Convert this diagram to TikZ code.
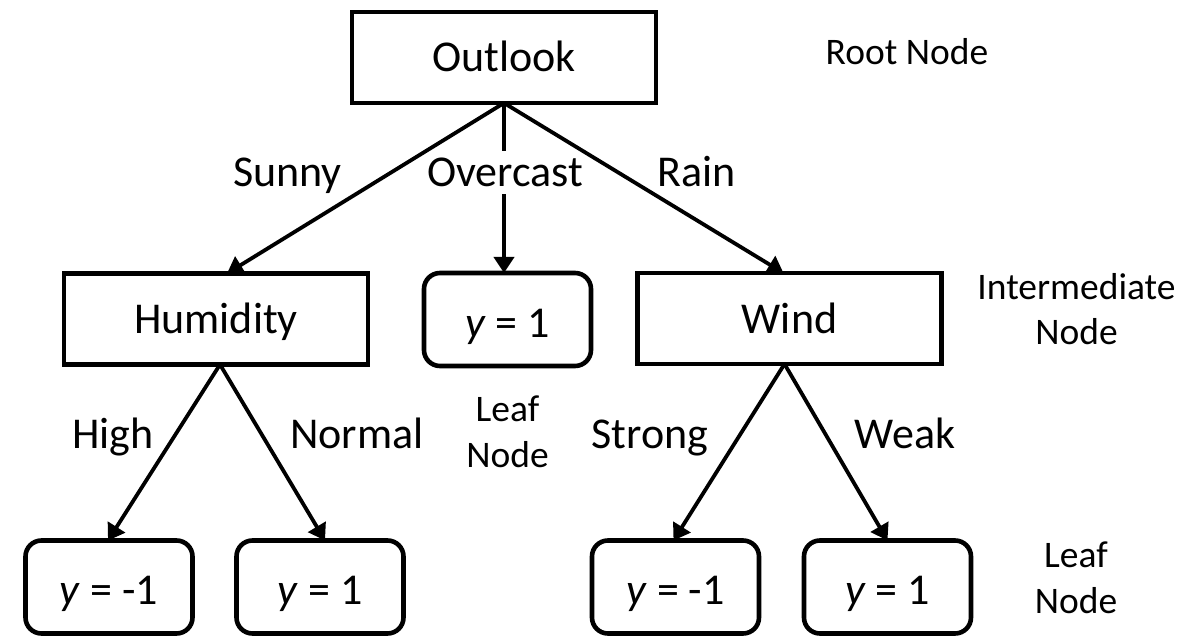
\documentclass[tikz,border=0pt]{standalone}
\usepackage{fontspec}
\setmainfont{Carlito}
\usetikzlibrary{arrows.meta}
\tikzset{
  box/.style={draw=black, line width=4.6bp, rectangle, outer sep=0pt, inner sep=0pt,
    minimum width=304bp, minimum height=91bp,
    font=\fontsize{44bp}{53bp}\selectfont, text height=29bp, text depth=0bp},
  leaf/.style={draw=black, line width=4.6bp, rectangle, rounded corners=16bp, outer sep=0pt, inner sep=0pt,
    minimum width=167bp, minimum height=93bp,
    font=\fontsize{44bp}{53bp}\selectfont, text height=35bp, text depth=0bp},
  edgelab/.style={anchor=base, inner sep=0pt, font=\fontsize{44bp}{53bp}\selectfont},
  cover/.style={fill=white, inner xsep=-30bp, inner ysep=7bp},
  note/.style={anchor=base, inner sep=0pt, align=center, font=\fontsize{37.5bp}{45.5bp}\selectfont},
  arr/.style={line width=3.8bp, -{Triangle[length=16bp,width=20bp]}}
}
\begin{document}
\begin{tikzpicture}[x=1bp,y=-1bp]
\useasboundingbox (0,0) rectangle (1191,637);
% main nodes
\node[box] (out) at (504,57.5) {Outlook};
\node[box] (hum) at (216,319) {Humidity};
\node[leaf] (mid) at (507.5,319.5) {\textit{y} = 1};
\node[box] (wind) at (789.5,318.5) {Wind};
\node[leaf] (l1) at (109,587) {\textit{y} = -1};
\node[leaf] (l2) at (320,587) {\textit{y} = 1};
\node[leaf] (l3) at (675.5,587) {\textit{y} = -1};
\node[leaf] (l4) at (887.5,587) {\textit{y} = 1};
% connectors
\draw[arr] (out.south) -- ([xshift=11bp]hum.north);
\draw[arr] (out.south) -- (mid.north -| out.south);
\draw[arr] (out.south) -- ([xshift=-6bp]wind.north);
\draw[arr] ([xshift=4bp]hum.south) -- ([xshift=-1bp]l1.north);
\draw[arr] ([xshift=4bp]hum.south) -- ([xshift=5bp]l2.north);
\draw[arr] ([xshift=-5bp]wind.south) -- ([xshift=-2bp]l3.north);
\draw[arr] ([xshift=-5bp]wind.south) -- (l4.north);
% edge labels
\node[edgelab] (lsunny) at (287.5,186.5) {Sunny};
\node[edgelab, cover] (lover) at (505,186.5) {Overcast};
\node[edgelab] (lrain) at (697,186.5) {Rain};
\node[edgelab] (lhigh) at (113,448) {High};
\node[edgelab] (lnorm) at (357,448) {Normal};
\node[edgelab] (lstrong) at (650,448) {Strong};
\node[edgelab] (lweak) at (905,448) {Weak};
% side notes
\node[note] (nroot) at (907,65) {Root Node};
\node[note] (ninter) at (1076.5,345) {Intermediate\\Node};
\node[note] (nleafm) at (507.5,467) {Leaf\\Node};
\node[note] (nleafb) at (1076,613) {Leaf\\Node};
\end{tikzpicture}
\end{document}
